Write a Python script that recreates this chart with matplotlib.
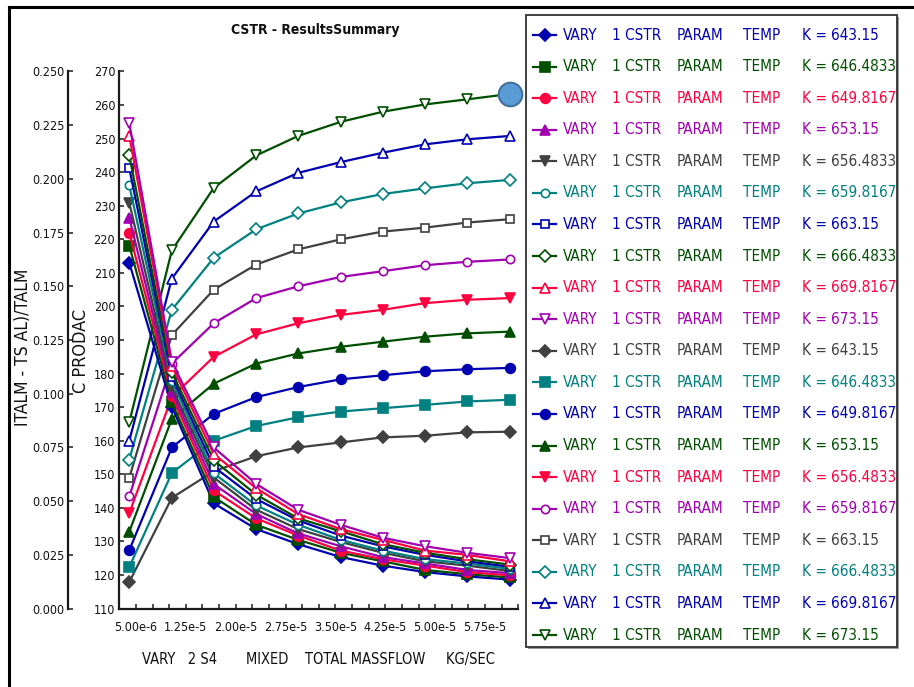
import numpy as np
import matplotlib
matplotlib.use("Agg")
import matplotlib.pyplot as plt
from matplotlib.lines import Line2D
from matplotlib.patches import Rectangle

plt.rcParams["font.family"] = ["DejaVu Sans"]
plt.rcParams["font.stretch"] = "condensed"

# ---------------------------------------------------------------- data
mass_flow = [4.0e-6, 10.4e-6, 16.7e-6, 23.1e-6, 29.4e-6,
             35.8e-6, 42.1e-6, 48.5e-6, 54.8e-6, 61.2e-6]

temps = ["643.15", "646.4833", "649.8167", "653.15", "656.4833",
         "659.8167", "663.15", "666.4833", "669.8167", "673.15"]

# (TALM - TSAL)/TALM, one list per reactor temperature
ratio_643 = [0.161, 0.094, 0.049, 0.037, 0.030, 0.024, 0.020, 0.017, 0.015, 0.0135]
ratio_646 = [0.169, 0.096, 0.052, 0.039, 0.032, 0.026, 0.022, 0.018, 0.016, 0.0145]
ratio_650 = [0.175, 0.099, 0.055, 0.042, 0.034, 0.027, 0.023, 0.020, 0.017, 0.0155]
ratio_653 = [0.182, 0.101, 0.058, 0.044, 0.035, 0.029, 0.024, 0.021, 0.018, 0.0165]
ratio_656 = [0.189, 0.103, 0.061, 0.046, 0.037, 0.031, 0.026, 0.022, 0.020, 0.0175]
ratio_660 = [0.197, 0.106, 0.063, 0.048, 0.039, 0.032, 0.027, 0.023, 0.021, 0.0185]
ratio_663 = [0.205, 0.108, 0.066, 0.051, 0.041, 0.034, 0.029, 0.025, 0.022, 0.0195]
ratio_666 = [0.211, 0.110, 0.069, 0.053, 0.042, 0.036, 0.030, 0.026, 0.023, 0.0205]
ratio_670 = [0.220, 0.113, 0.072, 0.056, 0.044, 0.037, 0.032, 0.027, 0.025, 0.022]
ratio_673 = [0.226, 0.115, 0.075, 0.058, 0.046, 0.039, 0.033, 0.029, 0.026, 0.0235]

# C PRODAC, one list per reactor temperature
prod_643 = [117.9, 143.0, 150.9, 155.4, 158.0, 159.5, 161.0, 161.5, 162.5, 162.7]
prod_646 = [122.4, 150.4, 160.0, 164.4, 167.0, 168.7, 169.7, 170.7, 171.7, 172.2]
prod_650 = [127.4, 158.0, 168.0, 173.0, 176.0, 178.3, 179.5, 180.7, 181.3, 181.7]
prod_653 = [132.9, 166.5, 177.0, 183.0, 186.0, 188.0, 189.5, 191.0, 192.0, 192.5]
prod_656 = [138.4, 173.0, 185.0, 191.7, 195.0, 197.5, 199.0, 201.0, 202.0, 202.5]
prod_660 = [143.4, 183.0, 195.0, 202.5, 206.0, 208.8, 210.5, 212.3, 213.3, 214.0]
prod_663 = [149.0, 191.5, 205.0, 212.5, 217.0, 220.0, 222.3, 223.5, 225.0, 226.0]
prod_666 = [154.4, 199.0, 214.5, 223.0, 227.7, 231.0, 233.5, 235.2, 236.7, 237.7]
prod_670 = [160.0, 208.3, 225.3, 234.3, 239.8, 243.0, 245.8, 248.3, 249.8, 250.8]
prod_673 = [165.5, 216.7, 235.3, 245.0, 250.8, 255.0, 258.0, 260.2, 261.7, 263.3]

ratio_series = [ratio_643, ratio_646, ratio_650, ratio_653, ratio_656,
                ratio_660, ratio_663, ratio_666, ratio_670, ratio_673]
prod_series = [prod_643, prod_646, prod_650, prod_653, prod_656,
               prod_660, prod_663, prod_666, prod_670, prod_673]

x_tick_labels = ["5.00e-6", "1.25e-5", "2.00e-5", "2.75e-5",
                 "3.50e-5", "4.25e-5", "5.00e-5", "5.75e-5"]

legend_words = ["VARY", "1 CSTR", "PARAM", "TEMP", "K ="]

# ---------------------------------------------------------------- styles
BLUE, GREEN, RED = "#0000b0", "#004f00", "#ff0040"
PURPLE, GRAY, TEAL = "#a000b0", "#404040", "#008080"

ratio_colors = [BLUE, GREEN, RED, PURPLE, GRAY, TEAL, BLUE, GREEN, RED, PURPLE]
prod_colors = [GRAY, TEAL, BLUE, GREEN, RED, PURPLE, GRAY, TEAL, BLUE, GREEN]
markers = ["D", "s", "o", "^", "v", "o", "s", "D", "^", "v"]
filled = [True] * 5 + [False] * 5
msizes = [6, 6.5, 7, 7, 7, 6, 6, 6, 6.5, 6.5]

W, H = 914, 687
fig = plt.figure(figsize=(W / 100, H / 100), dpi=100)

# plot area in pixel coordinates
L, R, T, B = 119.3, 518.3, 71.5, 608.6
ax = fig.add_axes([L / W, 1 - B / H, (R - L) / W, (B - T) / H])
ax.patch.set_alpha(0)
ax2 = ax.twinx()

SPINE = "#1a1a1a"
TXT = "#111111"
for a in (ax, ax2):
    for s in ("top", "right", "bottom", "left"):
        a.spines[s].set_visible(False)
for s in ("left", "bottom"):
    ax.spines[s].set_visible(True)
    ax.spines[s].set_linewidth(1.6)
    ax.spines[s].set_color(SPINE)

# outer ratio axis sits to the left of the product axis
ax2.yaxis.tick_left()
ax2.yaxis.set_label_position("left")
ax2.spines["left"].set_visible(True)
ax2.spines["left"].set_position(("outward", 51 * 0.72))
ax2.spines["left"].set_linewidth(1.6)
ax2.spines["left"].set_color(SPINE)

# ---------------------------------------------------------------- lines
handles = []
for i, ys in enumerate(ratio_series):
    c = ratio_colors[i]
    ln, = ax2.plot(mass_flow, ys, color=c, lw=1.6, marker=markers[i],
                   ms=msizes[i], mec=c, mew=1.2,
                   mfc=c if filled[i] else "white", zorder=3)
    handles.append(ln)

for i, ys in enumerate(prod_series):
    c = prod_colors[i]
    ln, = ax.plot(mass_flow, ys, color=c, lw=1.6, marker=markers[i],
                  ms=msizes[i], mec=c, mew=1.2,
                  mfc=c if filled[i] else "white", zorder=3)
    handles.append(ln)

# highlight on the end point of the hottest product curve
ax.plot(mass_flow[-1], prod_673[-1], "o", ms=17, mfc="#5b9bd5",
        mec="#41719c", mew=1.5, zorder=10, clip_on=False)

# ---------------------------------------------------------------- axes
ax.set_xlim(2.5e-6, 62.5e-6)
ax.set_ylim(110, 270)
ax2.set_ylim(0.0, 0.250)

major_x = [5e-6 + 7.5e-6 * k for k in range(len(x_tick_labels))]
ax.set_xticks(major_x)
ax.set_xticklabels(x_tick_labels)
ax.set_xticks(np.arange(5e-6, 62.6e-6, 2.5e-6), minor=True)
ax.set_yticks(np.arange(110, 271, 10))
ratio_ticks = np.arange(0, 0.2501, 0.025)
ax2.set_yticks(ratio_ticks)
ax2.set_yticklabels([f"{v:.3f}" for v in ratio_ticks])

for a in (ax, ax2):
    a.tick_params(axis="both", which="both", direction="in", length=5 * 0.72,
                  width=1.1, color=SPINE, labelsize=9, labelcolor=TXT)
ax.tick_params(axis="x", which="both", pad=9)
ax.tick_params(axis="y", pad=3)
ax2.tick_params(axis="y", pad=3)

ax.set_ylabel("C PRODAC", fontsize=13, color=TXT)
ax.yaxis.set_label_coords((90 - L) / (R - L), (B - 351) / (B - T))
ax2.set_ylabel("ITALM - TS AL)/TALM", fontsize=12.5, color=TXT)
ax2.yaxis.set_label_coords((32 - L) / (R - L), (B - 347) / (B - T))
ax.set_xlabel("VARY   2 S4       MIXED    TOTAL MASSFLOW     KG/SEC",
              fontsize=10.5, color=TXT)
ax.xaxis.set_label_coords(0.5, -(652 - B) / (B - T))

fig.text(315 / W, 1 - 30 / H, "CSTR - ResultsSummary", ha="center",
         va="center", fontsize=10, fontweight="bold", color=TXT)

# ---------------------------------------------------------------- legend
def fx(px):
    return px / W


def fy(py):
    return 1 - py / H


fig.add_artist(Rectangle((fx(528), fy(649)), fx(897) - fx(526), fy(15) - fy(647),
                         transform=fig.transFigure, facecolor="#9a9a9a",
                         edgecolor="none", zorder=1))
fig.add_artist(Rectangle((fx(526), fy(647)), fx(897) - fx(526), fy(15) - fy(647),
                         transform=fig.transFigure, facecolor="white",
                         edgecolor="#303030", lw=1.3, zorder=2))

word_x = [563, 612, 677, 743, 802]
value_x = 831
row0, pitch = 35, 31.58
for k, ln in enumerate(handles):
    yc = fy(row0 + pitch * k)
    c = ln.get_color()
    fig.add_artist(Line2D([fx(533), fx(556)], [yc, yc], color=c, lw=1.6,
                          transform=fig.transFigure, zorder=3))
    fig.add_artist(Line2D([fx(544.5)], [yc], linestyle="none",
                          marker=ln.get_marker(), ms=ln.get_markersize(),
                          mfc=ln.get_markerfacecolor(), mec=c, mew=1.2,
                          transform=fig.transFigure, zorder=4))
    for wx, word in zip(word_x, legend_words):
        fig.text(fx(wx), yc, word, color=c, fontsize=11, ha="left",
                 va="center", zorder=5)
    fig.text(fx(value_x), yc, temps[k % len(temps)], color=c, fontsize=11,
             ha="left", va="center", zorder=5)

# frame of the figure
fig.add_artist(Line2D([fx(9), fx(9)], [0, fy(7)], color="black", lw=2.2,
                      transform=fig.transFigure))
fig.add_artist(Line2D([fx(9), 1], [fy(7), fy(7)], color="black", lw=2.2,
                      transform=fig.transFigure))

fig.savefig("out.png", dpi=100)
